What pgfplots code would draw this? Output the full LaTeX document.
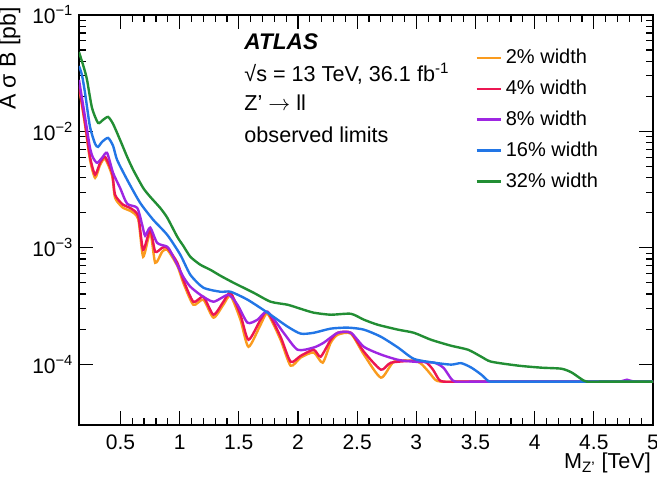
\documentclass[border=0pt]{standalone}
\usepackage{pgfplots}
\pgfplotsset{compat=1.18}
\usepackage{fontspec}
\setmainfont{Liberation Sans}

\definecolor{cOrange}{RGB}{250,155,30}
\definecolor{cRed}{RGB}{236,22,82}
\definecolor{cPurple}{RGB}{158,38,226}
\definecolor{cBlue}{RGB}{34,118,230}
\definecolor{cGreen}{RGB}{34,142,52}

\begin{document}
\begin{tikzpicture}
\fontsize{10.8}{13}\selectfont
\begin{axis}[
  scale only axis,
  width=287pt, height=205pt,
  ymode=log,
  xmin=0.15, xmax=5,
  ymin=3e-5, ymax=0.1,
  xtick={0.5,1,...,5},
  xticklabels={0.5,1,1.5,2,2.5,3,3.5,4,4.5,5},
  minor x tick num=4,
  ytick={1e-4,1e-3,1e-2,1e-1},
  yticklabels={10\textsuperscript{−4},10\textsuperscript{−3},10\textsuperscript{−2},10\textsuperscript{−1}},
  tick align=inside,
  xtick pos=both, ytick pos=both,
  major tick length=7pt,
  minor tick length=3.5pt,
  axis line style={line width=0.8pt},
  every tick/.style={black, line width=0.6pt},
  tick label style={font=\fontsize{10.5}{12}\selectfont},
  xticklabel style={yshift=-1pt},
  yticklabel style={xshift=1pt},
  ylabel={A σ B [pb]},
  ylabel style={font=\fontsize{11.5}{13}\selectfont, at={(axis description cs:-0.089,1.037)}, anchor=south east},
  xlabel={M\textsubscript{Z’} [TeV]},
  xlabel style={font=\fontsize{10.8}{13}\selectfont, at={(axis description cs:0.997,-0.05)}, anchor=north east, inner xsep=0pt},
  legend style={draw=none, fill=none, at={(axis description cs:0.690,0.928)}, anchor=north west,
    font=\fontsize{10}{12}\selectfont, row sep=2.6pt, inner sep=0pt},
  legend cell align=left,
  legend image code/.code={\draw[#1, line width=1.2pt] (0pt,0pt) -- (12pt,0pt);},
  every axis plot/.append style={line width=1.2pt, smooth, tension=0.4},
]
% 2% width
\addplot[cOrange] coordinates {
(0.150,0.0241) (0.201,0.01138) (0.243,0.00569) (0.286,0.00399) (0.328,0.00515)
(0.370,0.00581) (0.430,0.00415) (0.455,0.00268) (0.523,0.00220) (0.582,0.00208)
(0.650,0.00177) (0.692,0.000838) (0.752,0.00135) (0.794,0.000743) (0.853,0.000925)
(0.896,0.000962) (0.981,0.000700) (1.031,0.000501) (1.116,0.000324) (1.201,0.000358)
(1.286,0.000251) (1.370,0.000324) (1.430,0.000387) (1.514,0.000241) (1.582,0.000141)
(1.684,0.000218) (1.743,0.000271) (1.853,0.000162) (1.938,0.0000971) (2.023,0.000114)
(2.133,0.000126) (2.209,0.000103) (2.277,0.000153) (2.336,0.000179) (2.447,0.000183)
(2.557,0.000121) (2.701,0.0000766) (2.811,0.000105) (2.980,0.000107) (3.040,0.000101)
(3.100,0.0000870) (3.160,0.0000735) (3.210,0.0000708) (3.400,0.0000708) (3.700,0.0000708)
(4.100,0.0000708) (4.550,0.0000708) (5.0,0.0000708)
};
\addlegendentry{2\% width}
% 4% width
\addplot[cRed] coordinates {
(0.150,0.0251) (0.201,0.01183) (0.243,0.00604) (0.286,0.00424) (0.328,0.00537)
(0.370,0.00604) (0.430,0.00440) (0.455,0.00285) (0.523,0.00234) (0.582,0.00220)
(0.650,0.00188) (0.692,0.000962) (0.752,0.00143) (0.794,0.000925) (0.853,0.00100)
(0.896,0.00100) (0.981,0.000743) (1.031,0.000531) (1.116,0.000344) (1.201,0.000379)
(1.286,0.000266) (1.370,0.000344) (1.430,0.000411) (1.514,0.000266) (1.582,0.000162)
(1.684,0.000241) (1.743,0.000282) (1.853,0.000172) (1.938,0.000105) (2.023,0.000118)
(2.133,0.000133) (2.192,0.000116) (2.277,0.000162) (2.336,0.000186) (2.447,0.000186)
(2.557,0.000128) (2.701,0.0000897) (2.786,0.000103) (2.980,0.000107) (3.080,0.000104)
(3.140,0.0000900) (3.190,0.0000740) (3.230,0.0000708) (3.400,0.0000708) (3.700,0.0000708)
(4.100,0.0000708) (4.550,0.0000708) (5.0,0.0000708)
};
\addlegendentry{4\% width}
% 8% width
\addplot[cPurple] coordinates {
(0.150,0.0277) (0.201,0.01331) (0.243,0.00721) (0.269,0.00593) (0.303,0.00537)
(0.345,0.00593) (0.387,0.00654) (0.438,0.00440) (0.497,0.00327) (0.557,0.00239)
(0.642,0.00220) (0.684,0.00157) (0.709,0.00127) (0.752,0.00149) (0.811,0.00110)
(0.896,0.00102) (0.938,0.000871) (1.031,0.000564) (1.091,0.000463) (1.175,0.000395)
(1.286,0.000344) (1.413,0.000395) (1.489,0.000324) (1.574,0.000227) (1.658,0.000241)
(1.743,0.000282) (1.879,0.000186) (1.997,0.000133) (2.133,0.000139) (2.218,0.000153)
(2.336,0.000186) (2.447,0.000186) (2.557,0.000141) (2.701,0.000121) (2.845,0.000109)
(2.980,0.000105) (3.150,0.000103) (3.230,0.0000930) (3.290,0.0000760) (3.330,0.0000708)
(3.500,0.0000708) (3.800,0.0000708) (4.200,0.0000708) (4.600,0.0000708)
(4.720,0.0000708) (4.780,0.0000735) (4.840,0.0000708) (5.0,0.0000708)
};
\addlegendentry{8\% width}
% 16% width
\addplot[cBlue] coordinates {
(0.150,0.0365) (0.175,0.0305) (0.201,0.0214) (0.243,0.01093) (0.286,0.00782)
(0.311,0.00736) (0.345,0.00813) (0.396,0.00879) (0.438,0.00751) (0.472,0.00569)
(0.557,0.00384) (0.667,0.00243) (0.777,0.00174) (0.896,0.00129) (1.006,0.000871)
(1.091,0.000586) (1.201,0.000454) (1.345,0.000419) (1.430,0.000419) (1.574,0.000358)
(1.743,0.000277) (1.913,0.000210) (2.023,0.000183) (2.133,0.000186) (2.277,0.000202)
(2.421,0.000206) (2.557,0.000198) (2.701,0.000172) (2.845,0.000139) (2.980,0.000111)
(3.150,0.000103) (3.294,0.0000991) (3.379,0.000102) (3.464,0.0000935) (3.548,0.0000815)
(3.610,0.0000715) (3.660,0.0000708) (3.900,0.0000708) (4.300,0.0000708) (4.700,0.0000708)
(5.0,0.0000708)
};
\addlegendentry{16\% width}
% 32% width
\addplot[cGreen] coordinates {
(0.150,0.0481) (0.192,0.0351) (0.218,0.0277) (0.260,0.0159) (0.311,0.01183)
(0.353,0.01256) (0.396,0.01331) (0.438,0.01159) (0.497,0.00845) (0.557,0.00604)
(0.608,0.00467) (0.692,0.00327) (0.752,0.00274) (0.836,0.00220) (0.896,0.00181)
(0.981,0.00124) (1.031,0.00104) (1.091,0.000837) (1.175,0.000715) (1.260,0.000647)
(1.345,0.000575) (1.455,0.000501) (1.625,0.000411) (1.769,0.000344) (1.913,0.000324)
(2.023,0.000299) (2.133,0.000277) (2.277,0.000266) (2.447,0.000271) (2.557,0.000241)
(2.675,0.000218) (2.845,0.000198) (2.980,0.000186) (3.125,0.000162) (3.294,0.000144)
(3.438,0.000133) (3.548,0.000116) (3.633,0.000105) (3.862,0.0000971) (4.057,0.0000933)
(4.226,0.0000914) (4.311,0.0000850) (4.390,0.0000750) (4.440,0.0000708) (4.600,0.0000708)
(4.800,0.0000708) (5.0,0.0000708)
};
\addlegendentry{32\% width}

\node[anchor=base west, font=\fontsize{11.3}{13}\selectfont\bfseries\itshape] at (axis description cs:0.275,0.915) {ATLAS};
\node[anchor=base west] at (axis description cs:0.275,0.837) {√s = 13 TeV, 36.1 fb\textsuperscript{-1}};
\node[anchor=base west] at (axis description cs:0.275,0.768) {Z’ $\rightarrow$ ll};
\node[anchor=base west] at (axis description cs:0.275,0.690) {observed limits};
\end{axis}
\pgfresetboundingbox
\path ([shift={(-39.5pt,-27pt)}]current axis.south west) rectangle ([shift={(2pt,7.5pt)}]current axis.north east);
\end{tikzpicture}
\end{document}
